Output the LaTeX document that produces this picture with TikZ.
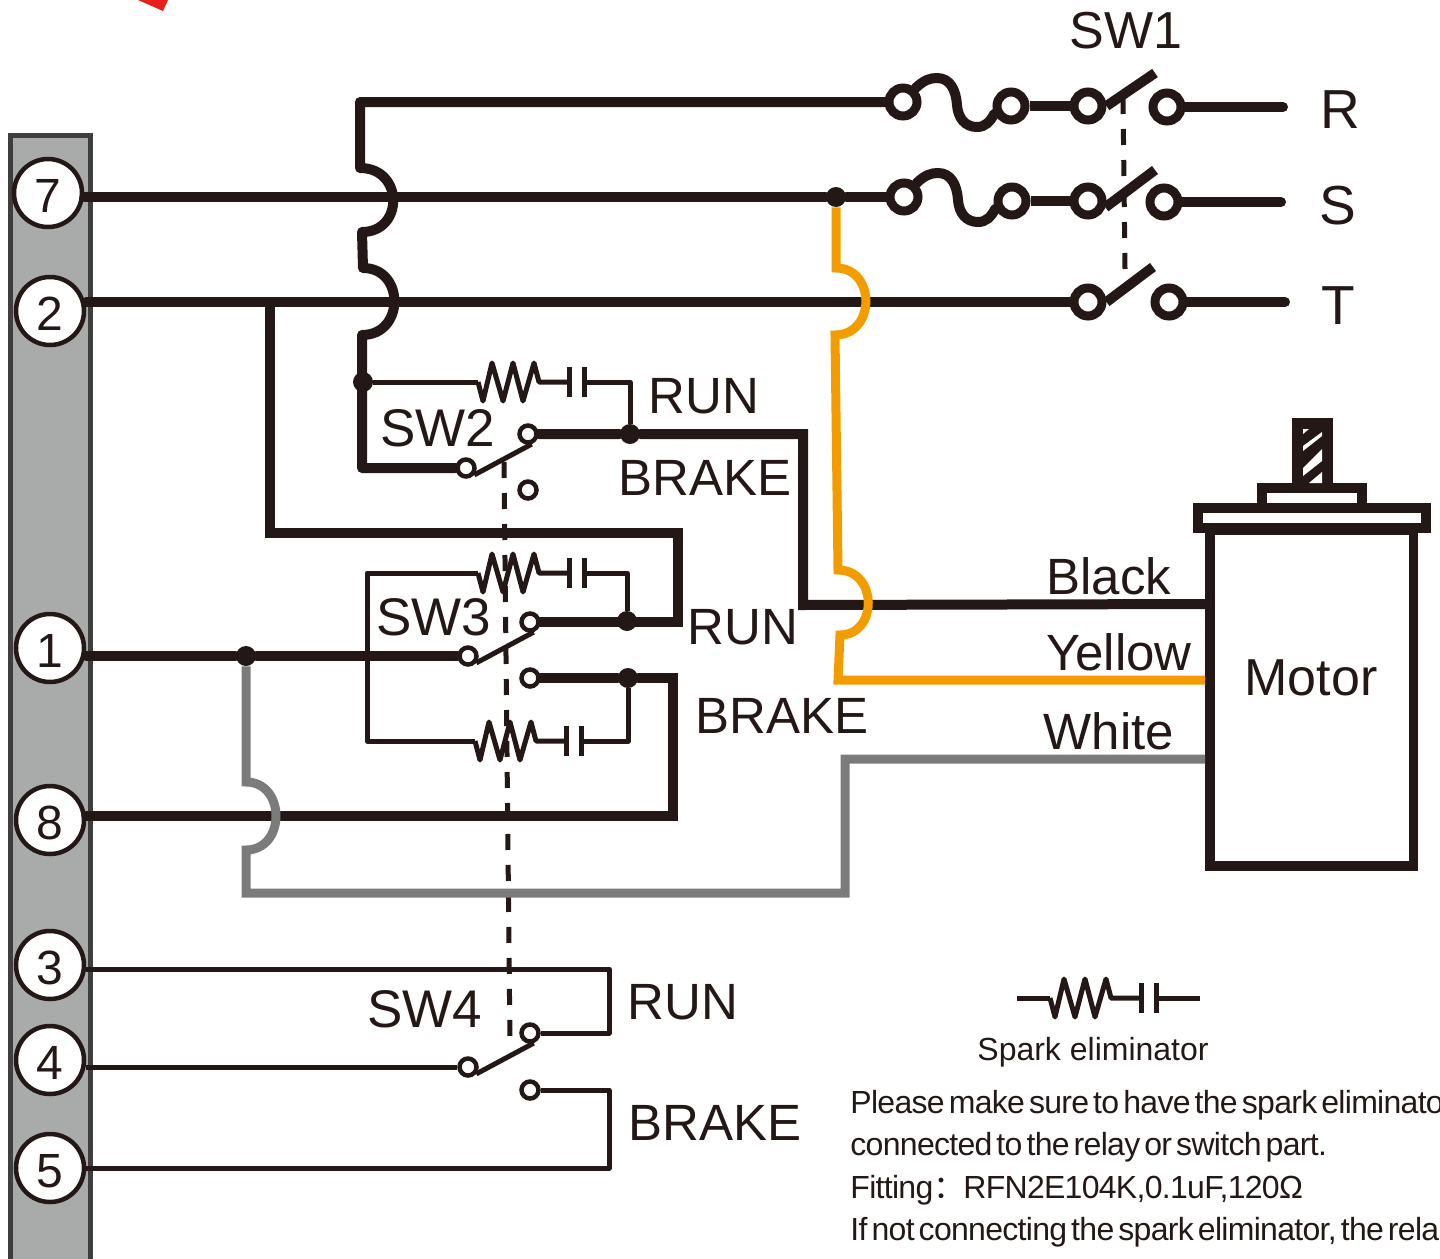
\documentclass[tikz,border=0pt]{standalone}
\usepackage{fontspec}
\setmainfont{Liberation Sans}
\newfontfamily\tightfont[LetterSpace=-2.2,WordSpace=0.5]{Liberation Sans}
\newfontfamily\cjk{Noto Sans CJK SC}
\usetikzlibrary{positioning}
\definecolor{ink}{HTML}{231815}
\definecolor{barfill}{HTML}{A9ABAA}
\definecolor{barline}{HTML}{3F3E3E}
\definecolor{orangewire}{HTML}{F39C00}
\definecolor{graywire}{HTML}{7B7B7B}
\definecolor{wedge}{HTML}{E8201B}
\tikzset{
    wire/.style={draw=ink, line width=5pt, line cap=round, line join=miter},
    thinwire/.style={draw=ink, line width=2.5pt, line join=round},
    gang/.style={draw=ink, line width=2.5pt, dash pattern=on 8pt off 7.5pt},
    terminal/.style={draw=ink, circle, fill=white, line width=2.25pt, minimum size=34pt, inner sep=0pt, text=ink, text height=19pt, text depth=0pt, font=\fontsize{24}{24}\selectfont},
    bigcontact/.style={draw=ink, circle, fill=white, line width=4.5pt, minimum size=14pt, inner sep=0pt},
    contact/.style={draw=ink, circle, fill=white, line width=2.25pt, minimum size=8.5pt, inner sep=0pt},
    junction/.style={circle, fill=ink, minimum size=10pt, inner sep=0pt},
    label/.style={text=ink, inner sep=0pt, font=\fontsize{25.5}{25.5}\selectfont},
    biglabel/.style={text=ink, inner sep=0pt, font=\fontsize{26.5}{26.5}\selectfont},
    note/.style={text=ink, inner sep=0pt, anchor=base west, font=\tightfont\fontsize{16}{16}\selectfont},
    spark/.pic={
        \draw[thinwire] (0,0) -- (5,19) -- (14,-19) -- (25,19) -- (35,-19) -- (45,19) -- (56,-19) -- (61,0) -- (91,0);
        \draw[thinwire] (91,-15) -- (91,15);
        \draw[thinwire] (106,-15) -- (106,15);
        \coordinate (-in) at (0,0);
        \coordinate (-out) at (106,0);
    }
}
\begin{document}
\begin{tikzpicture}[x=0.5pt, y=-0.5pt]
        \useasboundingbox (0,0) rectangle (1440,1258);
        \clip (0,0) rectangle (1440,1258);

        \fill[wedge] (138,0) -- (163,11) -- (168,0) -- cycle;
        \draw[draw=barline, fill=barfill, line width=2.5pt] (10.5,1270) -- (10.5,135) -- (90.5,135) -- (90.5,1270);

        \node[terminal] (T7) at (48,193) {7};
        \node[terminal] (T2) at (50,311) {2};
        \node[terminal] (T1) at (50,648) {1};
        \node[terminal] (T8) at (50,820) {8};
        \node[terminal] (T3) at (50,965) {3};
        \node[terminal] (T4) at (50,1060) {4};
        \node[terminal] (T5) at (50,1168) {5};

        \node[bigcontact] (FR1) at (903,102) {};
        \node[bigcontact] (FR2) at (1011,106) {};
        \node[bigcontact] (SR1) at (1088,106) {};
        \node[bigcontact] (SR2) at (1167,107) {};
        \node[bigcontact] (FS1) at (904,197) {};
        \node[bigcontact] (FS2) at (1012,201) {};
        \node[bigcontact] (SS1) at (1088,201) {};
        \node[bigcontact] (SS2) at (1164,202) {};
        \node[bigcontact] (ST1) at (1088,302) {};
        \node[bigcontact] (ST2) at (1169,302) {};

        \node[contact] (C2a) at (466,468) {};
        \node[contact] (C2b) at (528,434) {};
        \node[contact] (C2c) at (528,490) {};
        \node[contact] (C3a) at (468,656) {};
        \node[contact] (C3b) at (530,622) {};
        \node[contact] (C3c) at (530,678) {};
        \node[contact] (C4a) at (468,1067) {};
        \node[contact] (C4b) at (530,1033) {};
        \node[contact] (C4c) at (530,1090) {};

        \node[junction] (DS) at (836,197) {};
        \node[junction] (D2) at (363,382) {};
        \node[junction] (D2b) at (630,434) {};
        \node[junction] (D3b) at (627,621) {};
        \node[junction] (D3c) at (628,678) {};
        \node[junction] (D1) at (246,656) {};

        \node[draw=ink, line width=4.75pt, minimum width=101.75pt, minimum height=168pt, inner sep=0pt] (motor) at (1311.5,698) {};
        \draw[draw=ink, line width=5pt] (1197.5,508) rectangle (1425.5,527.5);
        \draw[draw=ink, line width=5pt] (1262,488) rectangle (1362,508);
        \fill[ink] (1292,418) rectangle (1333,490);
        \fill[white] (1303,429) -- (1309,429) -- (1303,434) -- cycle;
        \fill[white] (1303,446) -- (1322,432) -- (1322,436) -- (1303,451) -- cycle;
        \fill[white] (1303,468) -- (1322,449) -- (1322,461) -- (1303,476) -- cycle;
        \fill[white] (1309,483) -- (1322,472) -- (1322,483) -- cycle;

        \coordinate (GA) at (1123,98);
        \coordinate (GB) at (1125,269);
        \coordinate (GC) at (504,462);
        \coordinate (GD) at (510,1045);
        \draw[gang] (GA) -- (GB);
        \draw[gang] (GC) -- (GD);

        \coordinate (BR) at (1155,73);
        \coordinate (BS) at (1155,170);
        \coordinate (BT) at (1153,267);
        \coordinate (ER) at (1283,107);
        \coordinate (ES) at (1281,202);
        \coordinate (ET) at (1285,302);

        \draw[wire, line join=round] (FR1.west) -- (360,102) -- (360,168) .. controls (404,168) and (404,232) .. (362,232) -- (363,268) .. controls (405,268) and (405,335) .. (362,335) -- (362,468) -- (C2a.west);
        \draw[wire] ([yshift=-2pt]T7.east) -- (DS) -- (FS1.west);
        \draw[wire] ([yshift=4.5pt]T2.east) -- (ST1.west);
        \draw[wire] (270,302) -- (270,533) -- (678,533) -- (678,622) -- (C3b.east);
        \draw[wire] (C2b.east) -- (D2b) -- (803,434) -- (803,605) -- (motor.west |- 0,604);
        \draw[wire] ([yshift=-4pt]T1.east) -- (D1) -- (C3a.west);
        \draw[wire] (C3c.east) -- (D3c) -- (673,678) -- (673,816) -- ([yshift=2pt]T8.east);

        \draw[draw=ink, line width=5pt, line cap=round] (FR1.48) .. controls (924,80) and (930,78) .. (937,78) .. controls (950,78) and (956,90) .. (957,105) .. controls (958,118) and (965,127) .. (977,127) .. controls (985,127) and (990,122) .. (FR2.205);
        \draw[draw=ink, line width=5pt, line cap=round] (FS1.48) .. controls (925,175) and (931,173) .. (938,173) .. controls (951,173) and (957,185) .. (958,200) .. controls (959,213) and (966,222) .. (978,222) .. controls (986,222) and (991,217) .. (FS2.205);
        \draw[draw=ink, line width=5pt] (FR2.east) -- (SR1.west);
        \draw[draw=ink, line width=5pt] (FS2.east) -- (SS1.west);
        \draw[draw=ink, line width=5pt] (SR1.east) -- (BR);
        \draw[draw=ink, line width=5pt] (SS1.-20) -- (BS);
        \draw[draw=ink, line width=5pt] (ST1.east) -- (BT);
        \draw[wire] (SR2.east) -- (ER);
        \draw[wire] (SS2.east) -- (ES);
        \draw[wire] (ST2.east) -- (ET);

        \draw[draw=orangewire, line width=4.5pt, line join=miter] (DS) -- (836,268) .. controls (876,268) and (876,335) .. (835,335) -- (838,570) .. controls (878,570) and (878,635) .. (840,635) -- (838,680) -- (motor.west |- 0,680);
        \draw[draw=graywire, line width=4.5pt, line join=miter] (D1) -- (246,782) .. controls (286,782) and (286,850) .. (246,850) -- (246,893) -- (845,893) -- (845,759) -- (motor.west |- 0,759);

        \pic (E2) at (478,382) {spark};
        \pic (E3) at (478,573) {spark};
        \pic (E3b) at (475,741) {spark};
        \pic (EL) at (1050,998) {spark};
        \coordinate (ELa) at (1017,998);
        \coordinate (ELb) at (1200,998);

        \draw[thinwire] (D2) -- (E2-in);
        \draw[thinwire] (E2-out) -- (630,382) -- (D2b);
        \draw[thinwire] (E3-in) -- (367,573) -- (367,741) -- (E3b-in);
        \draw[thinwire] (E3-out) -- (627,573) -- (D3b);
        \draw[thinwire] (E3b-out) -- (628,741) -- (D3c);
        \draw[thinwire] (ELa) -- (EL-in);
        \draw[thinwire] (EL-out) -- (ELb);

        \draw[thinwire] (C2a.-40) -- (C2b.-70);
        \draw[thinwire] (C3a.-40) -- (C3b.-70);
        \draw[thinwire] (C4a.-40) -- (C4b.-70);
        \draw[thinwire] ([yshift=-2pt]T3.east) -- (609,969) -- (609,1033) -- (C4b.east);
        \draw[thinwire] ([yshift=-3.5pt]T4.east) -- (C4a.west);
        \draw[thinwire] (T5.east) -- (609,1168) -- (609,1090) -- (C4c.east);

        \node[biglabel, font=\fontsize{26}{26}\selectfont] (SW1) at (1126,31) {SW1};
        \node[biglabel, font=\fontsize{27.5}{27.5}\selectfont] (R) at (1340,110) {R};
        \node[biglabel, font=\fontsize{27.5}{27.5}\selectfont] (S) at (1338,206) {S};
        \node[biglabel, font=\fontsize{27.5}{27.5}\selectfont] (Tp) at (1338,306) {T};
        \node[biglabel] (SW2) at (438,428) {SW2};
        \node[biglabel] (SW3) at (434,617) {SW3};
        \node[biglabel] (SW4) at (425,1009) {SW4};
        \node[label] (run2) at (704,396) {RUN};
        \node[label] (brake2) at (705,478) {BRAKE};
        \node[label] (run3) at (743,627) {RUN};
        \node[label] (brake3) at (782,716) {BRAKE};
        \node[label] (run4) at (683,1002) {RUN};
        \node[label] (brake4) at (715,1123) {BRAKE};
        \node[label] (black) at (1109,576) {Black};
        \node[label] (yellow) at (1119,652) {Yellow};
        \node[label] (white) at (1109,731) {White};
        \node[label, font=\fontsize{26}{26}\selectfont] (motorname) at (1311,678) {Motor};
        \node[text=ink, inner sep=0pt, font=\fontsize{16}{16}\selectfont] (sparkname) at (1093,1052) {Spark eliminator};

        \node[note] (line1) at (850,1113) {Please make sure to have the spark eliminato};
        \node[note] (line2) at (850,1155) {connected to the relay or switch part.};
        \node[note] (line3) at (850,1198) {Fitting{\cjk ：}\hspace{-1pt}RFN2E104K,0.1uF,120Ω};
        \node[note] (line4) at (850,1240) {If not connecting the spark eliminator, the rela};
    \end{tikzpicture}
\end{document}
